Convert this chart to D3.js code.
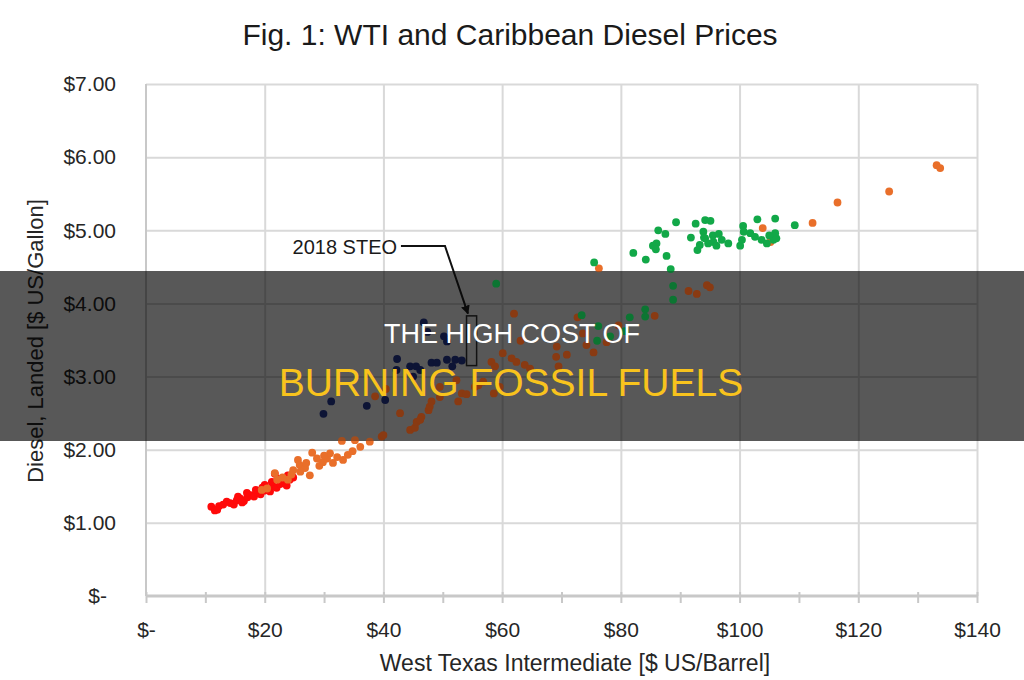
<!DOCTYPE html>
<html><head><meta charset="utf-8">
<script src="https://cdn.jsdelivr.net/npm/d3@7/dist/d3.min.js"></script>
<style>body{margin:0;background:#fff}svg{display:block}</style>
</head><body>
<svg id="c" width="1024" height="680"></svg>
<script>
// ---------- data ----------
const titleText = "Fig. 1: WTI and Caribbean Diesel Prices";
const xTitle = "West Texas Intermediate [$ US/Barrel]";
const yTitle = "Diesel, Landed [$ US/Gallon]";
const bannerLine1 = "THE HIGH COST OF";
const bannerLine2 = "BURNING FOSSIL FUELS";

const xTickValues = [0, 20, 40, 60, 80, 100, 120, 140];
const xMinorTickValues = [0, 10, 20, 30, 40, 50, 60, 70, 80, 90, 100, 110, 120, 130, 140];
const yTickValues = [0, 1, 2, 3, 4, 5, 6, 7];

const red = [[11.0,1.22],[11.6,1.17],[12.3,1.23],[12.0,1.18],[13.0,1.25],[13.6,1.29],[14.2,1.27],[14.8,1.25],
  [15.3,1.31],[15.9,1.33],[16.5,1.30],[17.1,1.35],[17.6,1.38],[18.2,1.36],[18.8,1.41],[19.3,1.39],[19.9,1.44],
  [20.4,1.47],[20.9,1.43],[21.4,1.50],[22.0,1.48],[22.6,1.53],[23.1,1.56],[23.7,1.51],[24.2,1.59],[24.8,1.62],
  [20.0,1.52],[21.7,1.67],[17.0,1.41],[15.5,1.36],[18.5,1.45],[22.5,1.60],[23.9,1.65],[16.2,1.28],[19.6,1.48],[21.2,1.56]];

const orange = [[19.5,1.45],[20.4,1.47],[21.7,1.68],[22.1,1.59],[23.9,1.59],[24.5,1.66],[25.6,1.86],[25.9,1.79],
  [26.8,1.75],[27.6,1.65],[28.0,1.96],[28.8,1.88],[29.8,1.83],[30.5,1.88],[31.5,1.82],[32.2,1.90],[33.2,1.86],
  [33.0,2.12],[34.0,1.93],[34.8,1.98],[36.1,2.04],[37.7,2.11],[35.2,2.13],[27.0,1.82],[26.0,1.70],[29.2,1.78],
  [31.0,1.95],[23.0,1.62],[24.8,1.72],[30.0,1.92],
  [76.3,4.48],[103.9,5.03],[105.2,4.84],[112.3,5.10],[116.5,5.38],[125.2,5.53],[133.2,5.89],[133.8,5.85]];

const brown = [[39.7,2.18],[40.0,2.20],[38.6,2.73],[40.4,2.83],[42.8,2.50],[44.5,2.27],[45.3,2.30],[45.6,2.38],
  [46.4,2.45],[46.2,2.41],[47.6,2.54],[47.8,2.59],[48.1,2.66],[49.5,2.72],[49.5,2.86],[52.3,2.95],[52.6,2.66],
  [53.2,2.77],[54.0,2.76],[55.4,2.86],[56.0,2.88],[56.8,2.93],[58.6,2.77],[59.6,2.86],[58.2,3.20],[58.8,3.14],
  [60.1,3.32],[61.6,3.25],[62.4,3.20],[63.8,3.16],[64.7,3.11],[63.1,3.49],[62.0,3.86],[69.2,3.41],[69.1,3.27],
  [70.9,3.30],[69.5,3.14],[72.7,3.81],[73.6,3.59],[74.2,3.43],[75.4,3.33],[77.6,3.47],[79.6,3.70],[85.7,3.83],
  [91.4,4.17],[92.8,4.13],[94.5,4.25],[95.0,4.22]];

const navy = [[29.9,2.49],[31.2,2.66],[37.2,2.60],[40.3,2.68],[42.3,3.24],[42.2,3.09],[44.5,3.14],[45.5,3.14],
  [46.2,3.09],[45.0,3.00],[46.8,3.74],[47.4,3.61],[50.2,3.55],[50.7,3.48],[48.1,3.19],[49.0,3.19],[50.7,3.23],
  [52.1,3.23],[53.2,3.22],[51.6,3.14]];

const green = [[59.0,4.27],[73.4,3.84],[76.2,3.69],[76.0,3.49],[78.2,3.55],[80.7,3.62],[81.5,3.81],[84.1,3.92],
  [84.1,3.82],[88.8,4.24],[88.8,4.05],
  [75.5,4.56],[82.1,4.69],[84.2,4.60],[85.4,4.79],[86.0,4.82],[85.9,4.74],[86.3,5.00],[87.5,4.95],[87.7,4.65],
  [88.4,4.47],[89.3,5.11],[91.8,4.90],[92.6,5.09],[94.2,5.14],[95.1,5.13],[93.9,4.98],[94.2,4.89],[93.3,4.80],
  [92.9,4.73],[94.7,4.82],[95.6,4.84],[96.1,4.79],[97.0,4.87],[98.1,4.82],[100.1,4.79],[100.4,4.87],[100.6,5.06],
  [100.7,4.98],[101.8,4.96],[103.0,5.15],[102.6,4.91],[103.7,4.87],[104.6,4.82],[105.7,4.87],[106.0,5.16],
  [106.2,4.89],[109.3,5.07],[106.0,4.96],[95.5,4.93],[96.5,4.95],[94.0,4.90],[105.0,4.93]];

const seriesList = [
  {name: "red", values: red, color: "#ff0a0a"},
  {name: "orange", values: orange, color: "#e96f2a"},
  {name: "brown", values: brown, color: "#c4531a"},
  {name: "navy", values: navy, color: "#141d4c"},
  {name: "green", values: green, color: "#12a848"}
];

const steoLabel = {x: 42.3, y: 4.77, text: "2018 STEO"};
const steoArrow = [[42.95, 4.785], [50.37, 4.785], [54.24, 3.86]];
const steoBox = {x0: 54.0, x1: 55.7, y0: 3.15, y1: 3.83};

// ---------- layout ----------
const svg = d3.select("#c");
const W = 1024, H = 680;
const x = d3.scaleLinear().domain([0, 140]).range([146, 977]);
const y = d3.scaleLinear().domain([0, 7]).range([596, 84]);
const font = "'Liberation Sans', Arial, sans-serif";
const textColor = "#262626";

svg.append("rect").attr("width", W).attr("height", H).attr("fill", "#fff");

// title
svg.append("text").attr("x", 510).attr("y", 45).attr("text-anchor", "middle")
  .attr("font-family", font).attr("font-size", 30).attr("fill", "#1a1a1a").text(titleText);

// gridlines
const gridH = svg.append("g").attr("transform", `translate(${x(0)},0)`)
  .call(d3.axisLeft(y).tickValues(yTickValues.filter(d => d > 0)).tickSize(-(x(140) - x(0))).tickFormat(""));
gridH.select(".domain").remove();
gridH.selectAll("line").attr("stroke", "#d9d9d9").attr("stroke-width", 2);

const gridV = svg.append("g").attr("transform", `translate(0,${y(0)})`)
  .call(d3.axisBottom(x).tickValues(xTickValues.filter(d => d > 0)).tickSize(-(y(0) - y(7))).tickFormat(""));
gridV.select(".domain").remove();
gridV.selectAll("line").attr("stroke", "#d9d9d9").attr("stroke-width", 2);

// y axis line
svg.append("line").attr("x1", x(0)).attr("x2", x(0)).attr("y1", y(7)).attr("y2", y(0))
  .attr("stroke", "#c8c8c8").attr("stroke-width", 2);

// x minor ticks (crossing axis)
const tickAxis = svg.append("g").attr("transform", `translate(0,${y(0) - 4})`)
  .call(d3.axisBottom(x).tickValues(xMinorTickValues).tickSize(11).tickFormat(""));
tickAxis.select(".domain").remove();
tickAxis.selectAll("line").attr("stroke", "#c8c8c8").attr("stroke-width", 2);

// x axis line
svg.append("line").attr("x1", x(0)).attr("x2", x(140)).attr("y1", y(0)).attr("y2", y(0))
  .attr("stroke", "#c8c8c8").attr("stroke-width", 3);

// x tick labels
const xLab = svg.append("g").attr("transform", `translate(0,${y(0)})`)
  .call(d3.axisBottom(x).tickValues(xTickValues).tickSize(0).tickPadding(0)
    .tickFormat(d => d === 0 ? "$-" : "$" + d));
xLab.select(".domain").remove();
xLab.selectAll("text").attr("y", 41).attr("dy", 0).attr("font-family", font).attr("font-size", 21).attr("fill", textColor);

// y tick labels
const yLab = svg.append("g").attr("transform", `translate(${x(0)},0)`)
  .call(d3.axisLeft(y).tickValues(yTickValues).tickSize(0).tickPadding(30)
    .tickFormat(d => d === 0 ? "$-" : "$" + d.toFixed(2)));
yLab.select(".domain").remove();
yLab.selectAll("text").attr("font-family", font).attr("font-size", 21).attr("fill", textColor)
  .attr("dx", d => d === 0 ? -9 : 0);

// axis titles
svg.append("text").attr("x", 575).attr("y", 671).attr("text-anchor", "middle")
  .attr("font-family", font).attr("font-size", 23).attr("fill", textColor).text(xTitle);
svg.append("text").attr("transform", "translate(43,341) rotate(-90)").attr("text-anchor", "middle")
  .attr("font-family", font).attr("font-size", 22).attr("fill", textColor).text(yTitle);

// banner band (lower layer)
const bandTop = 271, bandBottom = 441;
svg.append("rect").attr("x", 0).attr("y", bandTop).attr("width", W).attr("height", bandBottom - bandTop)
  .attr("fill", "#000").attr("fill-opacity", 0.5);

// points
const pts = svg.append("g");
seriesList.forEach(s => {
  pts.append("g").selectAll("circle").data(s.values).join("circle")
    .attr("cx", d => x(d[0])).attr("cy", d => y(d[1])).attr("r", 3.9).attr("fill", s.color);
});

// annotation
svg.append("defs").append("marker").attr("id", "ah").attr("viewBox", "0 0 10 10")
  .attr("refX", 9).attr("refY", 5).attr("markerWidth", 9).attr("markerHeight", 9)
  .attr("markerUnits", "userSpaceOnUse").attr("orient", "auto")
  .append("path").attr("d", "M0,0 L10,5 L0,10 z").attr("fill", "#111");
svg.append("text").attr("x", x(steoLabel.x)).attr("y", y(steoLabel.y) + 7).attr("text-anchor", "end")
  .attr("font-family", font).attr("font-size", 20).attr("fill", "#1a1a1a").text(steoLabel.text);
svg.append("path").attr("d", d3.line().x(d => x(d[0])).y(d => y(d[1]))(steoArrow))
  .attr("fill", "none").attr("stroke", "#111").attr("stroke-width", 2).attr("marker-end", "url(#ah)");
svg.append("rect").attr("x", x(steoBox.x0)).attr("y", y(steoBox.y1))
  .attr("width", x(steoBox.x1) - x(steoBox.x0)).attr("height", y(steoBox.y0) - y(steoBox.y1))
  .attr("fill", "none").attr("stroke", "#1a1a1a").attr("stroke-width", 1.5);

// banner band (upper layer)
svg.append("rect").attr("x", 0).attr("y", bandTop).attr("width", W).attr("height", bandBottom - bandTop)
  .attr("fill", "#000").attr("fill-opacity", 0.3);

svg.append("text").attr("x", 512).attr("y", 343).attr("text-anchor", "middle")
  .attr("font-family", font).attr("font-size", 27).attr("fill", "#ffffff").text(bannerLine1);
svg.append("text").attr("x", 511).attr("y", 396).attr("text-anchor", "middle")
  .attr("font-family", font).attr("font-size", 39).attr("fill", "#f8c31d").text(bannerLine2);
</script>
</body></html>
